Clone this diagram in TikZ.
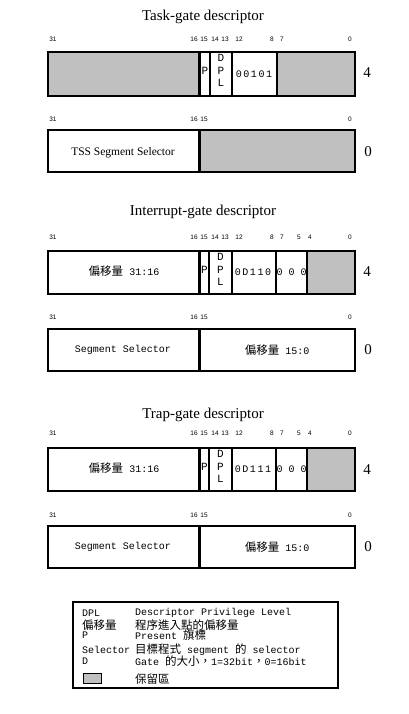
\documentclass[tikz,border=0pt]{standalone}
\usepackage{fontspec}
\setmainfont{Liberation Serif}
\newfontfamily\monof{Liberation Mono}
\newfontfamily\monosp[LetterSpace=16]{Liberation Mono}
\newfontfamily\cjkf{Noto Sans CJK TC}
\newfontfamily\sansf{Liberation Sans}
\newcommand\cj[1]{{\cjkf\fontsize{11.5}{12}\selectfont #1}}
\definecolor{rsv}{RGB}{192,192,192}
\tikzset{
  bitlbl/.style={font=\sansf\fontsize{6.5}{7}\selectfont, inner sep=0pt},
  titletxt/.style={font=\fontsize{15}{17}\selectfont, inner sep=0pt},
  sidetxt/.style={font=\fontsize{15}{17}\selectfont, inner sep=0pt},
  celltxt/.style={font=\monof\fontsize{10}{10}\selectfont, inner sep=0pt},
  spctxt/.style={font=\monosp\fontsize{10}{10}\selectfont, inner sep=0pt},
  bigtxt/.style={font=\monof\fontsize{11}{11}\selectfont, inner sep=0pt},
  serifcell/.style={font=\fontsize{11.5}{12}\selectfont, inner sep=0pt},
  frame/.style={line width=2.6pt},
  rsvfill/.style={fill=rsv},
  legtxt/.style={anchor=west, inner sep=0pt, font=\monof\fontsize{10}{10}\selectfont},
}
\begin{document}
\begin{tikzpicture}[x=1pt,y=-1pt]
\useasboundingbox (0,0) rectangle (408,714);

% ---------- Task-gate descriptor ----------
\node[titletxt] (t1) at (203,17) {Task-gate descriptor};
\foreach \n/\x in {31/53,16/194,15/204,14/215,13/225,12/239,8/272,7/282,0/350}
  \node[bitlbl] (ta\n) at (\x,39) {\n};
\fill[rsvfill] (48,52) rectangle (199.5,96);
\fill[rsvfill] (277,52) rectangle (355,96);
\draw[frame] (48,52) rectangle (355,96);
\draw[frame] (199.5,52) -- (199.5,96) (210,52) -- (210,96) (232,52) -- (232,96) (277,52) -- (277,96);
\node[bigtxt] (tp) at (205,71) {P};
\node[bigtxt] (td) at (221,58) {D};
\node[bigtxt] (tpp) at (221,71) {P};
\node[bigtxt] (tl) at (221,83) {L};
\node[spctxt] (tt) at (254,74) {00101};
\node[sidetxt] (t4) at (367,73) {4};

\foreach \n/\x in {31/53,16/194,15/204,0/350}
  \node[bitlbl] (tb\n) at (\x,119) {\n};
\fill[rsvfill] (199.5,130) rectangle (355,172);
\draw[frame] (48,130) rectangle (355,172);
\draw[frame] (199.5,130) -- (199.5,172);
\node[serifcell] (tss) at (123,153) {TSS Segment Selector};
\node[sidetxt] (t0) at (368,152) {0};

% ---------- Interrupt-gate descriptor ----------
\node[titletxt] (i1) at (203,212) {Interrupt-gate descriptor};
\foreach \n/\x in {31/53,16/194,15/204,14/215,13/225,12/239,8/272,7/282,5/299,4/310,0/350}
  \node[bitlbl] (ia\n) at (\x,237) {\n};
\fill[rsvfill] (307,251) rectangle (355,294);
\draw[frame] (48,251) rectangle (355,294);
\draw[frame] (199.5,251) -- (199.5,294) (209,251) -- (209,294) (232,251) -- (232,294) (276,251) -- (276,294) (307,251) -- (307,294);
\node[celltxt] (io) at (124,271) {\cj{偏移量} 31:16};
\node[bigtxt] (ip) at (204.5,270) {P};
\node[bigtxt] (id) at (220.5,257) {D};
\node[bigtxt] (ipp) at (220.5,270) {P};
\node[bigtxt] (il) at (220.5,282) {L};
\node[spctxt] (it) at (253,272) {0D110};
\node[celltxt] (iz) at (291.5,272) {0 0 0};
\node[sidetxt] (i4) at (367,272) {4};

\foreach \n/\x in {31/53,16/194,15/204,0/350}
  \node[bitlbl] (ib\n) at (\x,317) {\n};
\draw[frame] (48,329) rectangle (355,371);
\draw[frame] (199.5,329) -- (199.5,371);
\node[celltxt] (iss) at (123,350) {Segment Selector};
\node[celltxt] (io2) at (277,350) {\cj{偏移量} 15:0};
\node[sidetxt] (i0) at (368,350) {0};

% ---------- Trap-gate descriptor ----------
\node[titletxt] (r1) at (203,415) {Trap-gate descriptor};
\foreach \n/\x in {31/53,16/194,15/204,14/215,13/225,12/239,8/272,7/282,5/299,4/310,0/350}
  \node[bitlbl] (ra\n) at (\x,433) {\n};
\fill[rsvfill] (307,448) rectangle (355,491);
\draw[frame] (48,448) rectangle (355,491);
\draw[frame] (199.5,448) -- (199.5,491) (209,448) -- (209,491) (232,448) -- (232,491) (276,448) -- (276,491) (307,448) -- (307,491);
\node[celltxt] (ro) at (124,468) {\cj{偏移量} 31:16};
\node[bigtxt] (rp) at (204.5,467) {P};
\node[bigtxt] (rd) at (220.5,454) {D};
\node[bigtxt] (rpp) at (220.5,467) {P};
\node[bigtxt] (rl) at (220.5,479) {L};
\node[spctxt] (rt) at (253,469) {0D111};
\node[celltxt] (rz) at (291.5,469) {0 0 0};
\node[sidetxt] (r4) at (367,470) {4};

\foreach \n/\x in {31/53,16/194,15/204,0/350}
  \node[bitlbl] (rb\n) at (\x,515) {\n};
\draw[frame] (48,526) rectangle (355,568);
\draw[frame] (199.5,526) -- (199.5,568);
\node[celltxt] (rss) at (123,547) {Segment Selector};
\node[celltxt] (ro2) at (277,547) {\cj{偏移量} 15:0};
\node[sidetxt] (r0) at (368,547) {0};

% ---------- Legend ----------
\draw[frame] (73,602) rectangle (338,688);
\node[legtxt] (l1a) at (82,613) {DPL};
\node[legtxt] (l1b) at (135,613) {Descriptor Privilege Level};
\node[legtxt] (l2a) at (82,625) {\cj{偏移量}};
\node[legtxt] (l2b) at (135,625) {\cj{程序進入點的偏移量}};
\node[legtxt] (l3a) at (82,635) {P};
\node[legtxt] (l3b) at (135,635) {Present \cj{旗標}};
\node[legtxt] (l4a) at (82,650) {Selector};
\node[legtxt] (l4b) at (135,650) {\cj{目標程式} segment \cj{的} selector};
\node[legtxt] (l5a) at (82,661) {D};
\node[legtxt] (l5b) at (135,661) {Gate \cj{的大小，}1=32bit\cj{，}0=16bit};
\draw[fill=rsv, line width=0.8pt] (83,673) rectangle (101,683);
\node[legtxt] (l6b) at (135,679) {\cj{保留區}};
\end{tikzpicture}
\end{document}
